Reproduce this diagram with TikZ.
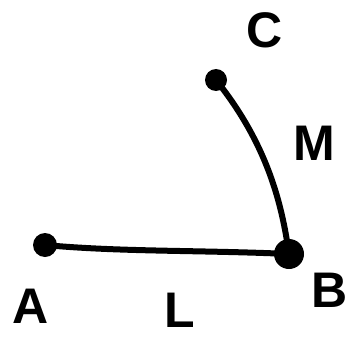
\documentclass[tikz,border=0pt]{standalone}
\usepackage{fontspec}
\setmainfont{Liberation Sans}
\usetikzlibrary{positioning}
\tikzset{
  pt/.style={circle, fill=black, inner sep=0pt, minimum size=#1},
  pt/.default=24pt,
  lbl/.style={font=\fontsize{50}{50}\selectfont\bfseries},
  stroke/.style={line width=6pt, line cap=round}
}

\begin{document}
\begin{tikzpicture}[x=1pt, y=-1pt]
    \useasboundingbox[fill=white] (0,0) rectangle (352,350);
    \node[pt] (A) at (45,245) {};
    \node[pt=30pt] (B) at (289,254) {};
    \node[pt=22pt] (C) at (216,80) {};
    % segments
    \draw[stroke] (A.center) .. controls (120,252) and (200,250) .. (B.center);
    \draw[stroke] (B.center) .. controls (282,205) and (268,145) .. (C.center);
    % labels
    \node[lbl] (labA) at (31,306) {A};
    \node[lbl] (labL) at (180,310) {L};
    \node[lbl] (labB) at (330,290) {B};
    \node[lbl] (labC) at (265,30) {C};
    \node[lbl] (labM) at (314,143) {M};
\end{tikzpicture}
\end{document}
